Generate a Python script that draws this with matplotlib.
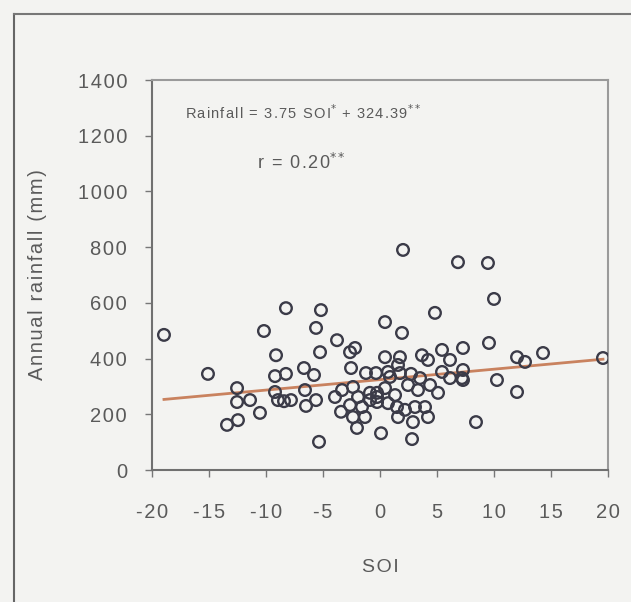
import matplotlib.pyplot as plt
from matplotlib.lines import Line2D
from matplotlib.ticker import FuncFormatter

# SOI vs annual rainfall (mm)
soi = [-18.95, -15.09, -10.18, -8.25, -9.12, -9.21, -8.25, -12.54, -12.54, -11.40,
       -10.53, -13.42, -12.46, -9.21, -8.95, -8.42, -7.81, -6.67, -6.49, -5.18,
       -5.61, -3.77, -5.26, -2.19, -2.63, -5.79, -2.54, -1.23, -0.35, -6.58,
       -5.61, -3.95, -3.33, -2.37, -1.93, -2.63, -3.42, -2.37, -1.58, -1.32,
       -2.02, -5.35, -0.88, -0.26, 0.44, 1.93, 4.82, 0.44, 1.75, 3.68,
       4.21, 5.44, 6.14, 7.28, 0.70, 1.58, 0.88, 1.75, 2.72, 3.51,
       5.44, 6.14, 7.19, -0.88, -0.26, 0.44, 1.32, 2.46, 3.33, 4.39,
       5.09, -0.26, 0.70, 1.49, 2.19, 3.07, 3.95, 4.21, 1.58, 2.89,
       0.09, 2.81, 8.42, 9.56, 12.02, 12.72, 14.30, 19.56, 7.28, 7.28,
       10.26, 12.02, 2.02, 6.84, 9.47, 10.00]
rainfall = [485, 345, 499, 581, 412, 337, 345, 294, 244, 251,
            205, 162, 179, 280, 251, 247, 251, 366, 230, 574,
            510, 466, 423, 438, 423, 341, 366, 348, 348, 287,
            251, 262, 287, 298, 262, 233, 209, 190, 226, 190,
            151, 101, 277, 262, 531, 492, 564, 405, 405, 412,
            395, 431, 395, 438, 352, 377, 334, 348, 345, 330,
            352, 330, 330, 251, 277, 294, 269, 305, 287, 305,
            277, 244, 240, 226, 216, 226, 226, 190, 190, 172,
            132, 111, 172, 456, 405, 388, 420, 402, 359, 323,
            323, 280, 790, 746, 743, 614]

slope, intercept = 3.75, 324.39
line_x = [min(soi), max(soi)]
line_y = [slope * v + intercept for v in line_x]

bg = '#f3f3f1'
txt = '#5a5a5a'
plt.rcParams['font.family'] = ['Liberation Sans', 'DejaVu Sans']
plt.rcParams['axes.unicode_minus'] = False

HS = '\u200a'  # hair space, the original text is letter-spaced


def spaced(s):
    return HS.join(s)


fig = plt.figure(figsize=(6.31, 6.02), dpi=100, facecolor=bg)
ax = fig.add_axes([152/631, 1 - 470/602, 456/631, 390/602], facecolor=bg)

# outer frame (only left and top edges are in the picture)
fig.add_artist(Line2D([14/631, 14/631], [0, 1 - 14/602], transform=fig.transFigure,
                      color='#666666', lw=1.5))
fig.add_artist(Line2D([14/631, 1], [1 - 14/602, 1 - 14/602], transform=fig.transFigure,
                      color='#777777', lw=1.5))

ax.plot(line_x, line_y, color='#c9825f', lw=2, zorder=2)
ax.scatter(soi, rainfall, s=70, facecolors='none', edgecolors='#3b3b48',
           linewidths=1.7, zorder=3)

ax.set_xlim(-20, 20)
ax.set_ylim(0, 1400)
ax.set_xticks(range(-20, 21, 5))
ax.set_yticks(range(0, 1401, 200))
ax.xaxis.set_major_formatter(FuncFormatter(lambda v, p: spaced(str(int(v)))))
ax.yaxis.set_major_formatter(FuncFormatter(lambda v, p: spaced(str(int(v)))))
ax.tick_params(direction='out', length=5, width=1, color='#777777',
               labelcolor=txt, labelsize=14.5)
ax.tick_params(axis='y', pad=13)
ax.tick_params(axis='x', pad=19)
for s in ['left', 'bottom']:
    ax.spines[s].set_color('#707070')
    ax.spines[s].set_linewidth(1.5)
for s in ['top', 'right']:
    ax.spines[s].set_color('#9a9a9a')
    ax.spines[s].set_linewidth(1.5)

ax.set_xlabel(spaced('SOI'), color=txt, fontsize=14)
ax.xaxis.set_label_coords(0.5, -0.25)
ax.xaxis.label.set_va('center')
ax.set_ylabel(spaced('Annual rainfall (mm)'), color=txt, fontsize=14.5)
ax.yaxis.set_label_coords(-0.25, 0.5)
ax.yaxis.label.set_va('center')

ax.text(-17.1, 1283, spaced('Rainfall = 3.75 SOI') + r'$^{*}$' + spaced(' + 324.39') + r'$^{**}$',
        color=txt, fontsize=10.5, va='center', ha='left')
ax.text(-10.8, 1103, spaced('r = 0.20') + r'$^{**}$', color=txt, fontsize=13,
        va='center', ha='left')

fig.savefig('out.png', dpi=100, facecolor=bg)
